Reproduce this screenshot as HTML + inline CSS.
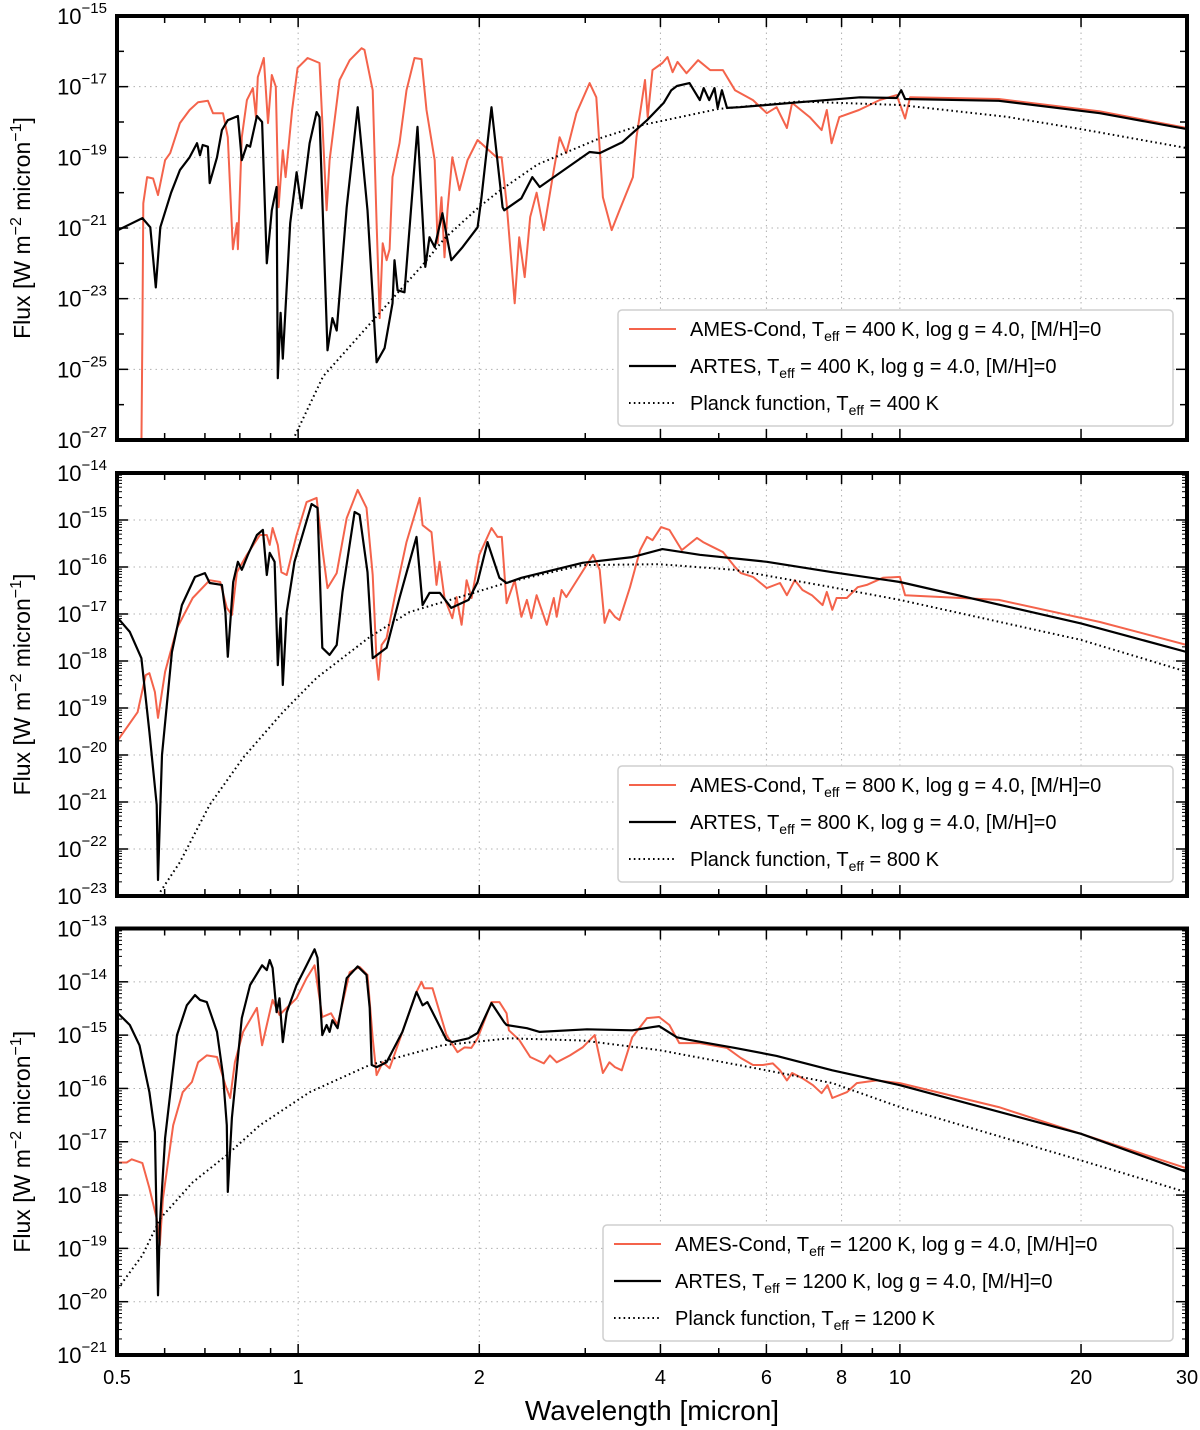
<!DOCTYPE html>
<html><head><meta charset="utf-8"><style>
html,body{margin:0;padding:0;background:#fff;}
svg{display:block;font-family:"Liberation Sans",sans-serif;}
</style></head><body>
<svg id="chart" width="1200" height="1430" viewBox="0 0 1200 1430" xmlns="http://www.w3.org/2000/svg"></svg>
<script>
// ---------- x-axis ticks ----------
const xTickLabels = [0.5, 1, 2, 4, 6, 8, 10, 20, 30];
const xGridValues = [1, 2, 4, 6, 8, 10, 20];
const xMinorValues = [0.6, 0.7, 0.8, 0.9, 3, 5, 7, 9];

// ---------- panel 1 (400 K) ----------
const p1BlackWl = [0.502,0.551,0.568,0.580,0.590,0.615,0.636,0.660,0.679,0.687,0.694,0.708,0.713,0.733,0.747,0.764,0.794,0.806,0.822,0.832,0.854,0.871,0.887,0.904,0.921,0.925,0.935,0.943,0.970,0.994,1.013,1.045,1.073,1.085,1.119,1.140,1.159,1.204,1.256,1.304,1.350,1.392,1.435,1.446,1.463,1.502,1.579,1.627,1.653,1.686,1.737,1.797,1.876,1.987,2.017,2.096,2.187,2.20,2.35,2.45,2.52,3.05,3.17,3.46,3.80,4.05,4.17,4.26,4.47,4.65,4.72,4.82,4.92,4.98,5.06,5.16,5.42,6.82,8.58,9.88,10.05,10.2,14.6,21.5,30];
const p1BlackFlux = [-21.06,-20.72,-20.98,-22.68,-20.98,-20.0,-19.36,-19.0,-18.6,-18.94,-18.65,-18.7,-19.73,-19.0,-18.23,-17.95,-17.83,-19.08,-18.65,-18.7,-17.83,-18.0,-22.0,-20.5,-19.84,-25.25,-23.4,-24.7,-20.86,-19.42,-20.44,-18.6,-17.72,-17.86,-24.46,-23.55,-23.9,-20.41,-17.58,-20.5,-24.8,-24.4,-23.13,-21.91,-22.76,-22.82,-18.14,-22.1,-21.26,-21.54,-20.58,-21.91,-21.54,-20.98,-20.13,-17.58,-20.41,-20.5,-20.16,-19.56,-19.84,-18.85,-18.88,-18.57,-17.95,-17.46,-17.1,-16.98,-16.9,-17.38,-17.04,-17.38,-17.04,-17.6,-17.1,-17.6,-17.58,-17.44,-17.3,-17.32,-17.1,-17.35,-17.4,-17.75,-18.2];
const p1RedWl = [0.549,0.551,0.553,0.561,0.574,0.585,0.601,0.613,0.636,0.660,0.682,0.708,0.722,0.750,0.764,0.776,0.779,0.791,0.794,0.806,0.822,0.841,0.851,0.857,0.877,0.891,0.904,0.918,0.928,0.943,0.953,0.977,0.998,1.037,1.085,1.115,1.128,1.172,1.218,1.275,1.289,1.330,1.350,1.366,1.382,1.403,1.419,1.435,1.474,1.514,1.561,1.603,1.634,1.686,1.705,1.731,1.751,1.771,1.804,1.854,1.912,1.987,2.136,2.178,2.22,2.29,2.33,2.38,2.43,2.49,2.56,2.66,2.72,2.79,2.90,3.05,3.13,3.21,3.32,3.42,3.60,3.65,3.77,3.81,3.88,4.03,4.11,4.19,4.27,4.42,4.62,4.84,5.08,5.32,5.70,6.01,6.24,6.49,6.62,7.08,7.41,7.56,7.70,7.93,8.55,9.25,9.88,10.2,10.4,14.6,21.5,30];
const p1RedFlux = [-27.2,-23.9,-20.3,-19.56,-19.6,-20.07,-19.08,-18.88,-18.03,-17.66,-17.44,-17.4,-17.75,-17.75,-18.43,-20.98,-21.6,-20.86,-21.6,-18.43,-17.38,-17.04,-17.86,-16.73,-16.19,-18.03,-16.67,-17.0,-20.41,-18.8,-19.56,-17.66,-16.47,-16.19,-16.33,-20.5,-19.08,-16.81,-16.25,-15.91,-15.96,-17.1,-20.86,-23.55,-21.43,-21.91,-21.6,-19.56,-18.6,-17.1,-16.19,-16.22,-17.66,-19.08,-21.43,-20.13,-21.83,-20.5,-19.0,-19.93,-19.08,-18.51,-19.0,-19.0,-20.3,-23.13,-21.26,-22.39,-20.69,-20.0,-21.06,-19.36,-18.43,-18.88,-17.75,-16.9,-17.3,-20.13,-21.06,-20.5,-19.56,-18.43,-16.81,-17.86,-16.53,-16.33,-16.16,-16.59,-16.3,-16.62,-16.25,-16.53,-16.53,-17.1,-17.38,-17.75,-17.58,-18.17,-17.46,-17.86,-18.23,-17.66,-18.6,-17.86,-17.66,-17.38,-17.24,-17.9,-17.3,-17.35,-17.7,-18.17];
const p1PlanckWl = [0.98,1.1,1.35,1.6,1.75,2.0,2.16,2.5,3.17,3.7,5.0,6.8,10,15,20,30];
const p1PlanckFlux = [-27.0,-25.2,-23.5,-22.1,-21.3,-20.4,-19.95,-19.2,-18.46,-18.1,-17.63,-17.42,-17.52,-17.85,-18.2,-18.74];

// ---------- panel 2 (800 K) ----------
const p2BlackWl = [0.502,0.525,0.549,0.566,0.582,0.585,0.589,0.594,0.617,0.641,0.674,0.700,0.713,0.747,0.757,0.764,0.780,0.794,0.806,0.825,0.854,0.874,0.887,0.897,0.914,0.925,0.935,0.943,0.957,0.986,1.02,1.053,1.077,1.097,1.128,1.159,1.185,1.241,1.265,1.304,1.330,1.403,1.474,1.573,1.610,1.653,1.72,1.797,1.92,1.987,2.064,2.16,2.22,2.35,2.97,3.59,4.03,4.65,6.01,7.72,10.0,20,30];
const p2BlackFlux = [-17.09,-17.38,-17.94,-19.51,-21.06,-22.66,-21.43,-20.0,-17.81,-16.81,-16.21,-16.13,-16.34,-16.38,-16.96,-17.91,-16.32,-15.89,-16.06,-15.74,-15.32,-15.21,-16.17,-15.70,-15.89,-18.09,-17.09,-18.51,-16.96,-15.89,-15.26,-14.66,-14.74,-17.72,-17.87,-17.66,-16.53,-14.83,-14.89,-16.11,-17.94,-17.72,-16.66,-15.36,-16.81,-16.55,-16.55,-16.87,-16.70,-16.32,-15.47,-16.23,-16.34,-16.23,-15.91,-15.79,-15.62,-15.74,-15.89,-16.11,-16.32,-17.2,-17.81];
const p2RedWl = [0.502,0.541,0.558,0.566,0.578,0.585,0.601,0.629,0.668,0.713,0.742,0.761,0.776,0.791,0.822,0.864,0.887,0.897,0.907,0.925,0.938,0.957,0.994,1.033,1.073,1.097,1.119,1.159,1.204,1.256,1.299,1.330,1.350,1.36,1.376,1.403,1.446,1.514,1.592,1.61,1.666,1.698,1.718,1.751,1.804,1.833,1.869,1.905,1.942,2.0,2.096,2.144,2.18,2.22,2.29,2.35,2.40,2.44,2.49,2.59,2.66,2.69,2.74,2.79,2.93,3.09,3.17,3.23,3.29,3.36,3.42,3.56,3.70,3.80,3.88,4.01,4.14,4.34,4.60,4.71,4.88,5.08,5.32,5.44,5.70,6.01,6.32,6.49,6.69,6.89,7.14,7.44,7.56,7.72,7.85,8.16,8.51,8.81,9.37,10.0,10.2,14.6,21.5,30];
const p2RedFlux = [-19.68,-19.09,-18.30,-18.26,-18.66,-19.21,-18.23,-17.30,-16.66,-16.28,-16.32,-16.87,-17.02,-16.11,-15.74,-15.32,-15.32,-15.53,-15.17,-15.53,-16.11,-16.17,-15.32,-14.62,-14.53,-15.60,-16.45,-16.13,-14.96,-14.36,-14.74,-16.17,-18.02,-18.40,-17.66,-17.51,-16.66,-15.47,-14.53,-15.11,-15.26,-16.38,-15.89,-16.66,-17.09,-16.64,-17.23,-16.28,-16.66,-15.74,-15.17,-15.36,-15.36,-16.77,-16.28,-17.06,-16.70,-17.09,-16.60,-17.23,-16.66,-17.06,-16.49,-16.64,-16.21,-15.74,-16.06,-17.19,-16.91,-17.06,-17.13,-16.43,-15.64,-15.36,-15.43,-15.15,-15.21,-15.64,-15.38,-15.47,-15.57,-15.68,-16.0,-16.13,-16.21,-16.45,-16.34,-16.60,-16.28,-16.49,-16.60,-16.81,-16.53,-16.91,-16.66,-16.66,-16.43,-16.38,-16.23,-16.21,-16.6,-16.70,-17.17,-17.66];
const p2PlanckWl = [0.59,0.636,0.713,0.81,0.943,1.073,1.315,1.53,1.98,2.24,2.97,3.98,5.3,7.7,10,20,30];
const p2PlanckFlux = [-22.91,-22.28,-21.06,-20.06,-19.09,-18.36,-17.49,-16.96,-16.53,-16.32,-15.96,-15.94,-16.06,-16.43,-16.7,-17.55,-18.23];

// ---------- panel 3 (1200 K) ----------
const p3BlackWl = [0.502,0.525,0.545,0.566,0.578,0.585,0.589,0.601,0.629,0.653,0.674,0.687,0.705,0.733,0.750,0.761,0.764,0.776,0.806,0.832,0.871,0.887,0.897,0.907,0.921,0.931,0.943,0.957,0.994,1.033,1.065,1.077,1.097,1.115,1.128,1.14,1.163,1.204,1.256,1.299,1.315,1.325,1.35,1.403,1.49,1.573,1.61,1.64,1.666,1.764,1.804,1.92,1.987,2.096,2.20,2.22,2.40,2.52,3.02,3.59,3.88,3.98,4.26,4.47,5.32,6.24,7.72,10.0,20,30];
const p3BlackFlux = [-14.59,-14.81,-15.19,-16.07,-16.82,-19.88,-18.57,-16.93,-15.0,-14.44,-14.25,-14.34,-14.38,-14.94,-15.75,-16.69,-17.94,-16.55,-14.68,-14.06,-13.69,-13.78,-13.59,-13.74,-14.57,-14.31,-15.13,-14.57,-14.06,-13.69,-13.39,-13.55,-15.0,-14.81,-14.94,-14.72,-14.87,-13.93,-13.71,-13.87,-14.49,-15.56,-15.60,-15.51,-14.94,-14.19,-14.44,-14.38,-14.53,-15.09,-15.13,-15.06,-14.96,-14.40,-14.76,-14.81,-14.87,-14.94,-14.89,-14.91,-14.85,-14.83,-15.04,-15.09,-15.24,-15.39,-15.66,-15.94,-16.85,-17.57];
const p3RedWl = [0.502,0.519,0.529,0.551,0.566,0.582,0.589,0.596,0.62,0.643,0.666,0.682,0.705,0.733,0.757,0.771,0.785,0.81,0.854,0.871,0.887,0.907,0.931,0.957,0.994,1.033,1.065,1.097,1.134,1.163,1.218,1.265,1.304,1.33,1.35,1.382,1.419,1.49,1.573,1.603,1.62,1.672,1.764,1.84,1.89,1.94,1.987,2.096,2.16,2.22,2.24,2.33,2.43,2.56,2.62,2.69,2.83,2.97,3.11,3.21,3.29,3.36,3.45,3.59,3.80,3.98,4.14,4.30,4.65,5.16,5.44,5.70,5.92,6.15,6.32,6.49,6.62,6.89,7.17,7.41,7.58,7.72,8.16,8.48,9.15,10.0,14.6,20,30];
const p3RedFlux = [-17.39,-17.39,-17.33,-17.40,-17.87,-18.44,-18.94,-18.07,-16.69,-16.07,-15.88,-15.51,-15.38,-15.41,-15.94,-16.18,-15.51,-14.94,-14.49,-15.19,-14.81,-14.34,-14.62,-14.49,-14.31,-13.93,-13.69,-14.66,-14.59,-14.81,-13.82,-13.72,-13.87,-15.06,-15.75,-15.51,-15.62,-14.94,-14.19,-14.0,-14.12,-14.12,-15.0,-15.32,-15.23,-15.24,-15.06,-14.38,-14.38,-14.59,-14.91,-15.09,-15.41,-15.53,-15.38,-15.51,-15.38,-15.23,-15.0,-15.71,-15.51,-15.60,-15.66,-15.04,-14.68,-14.66,-14.81,-15.15,-15.15,-15.24,-15.43,-15.56,-15.56,-15.53,-15.66,-15.85,-15.71,-15.81,-15.94,-16.09,-15.94,-16.18,-16.07,-15.90,-15.85,-15.90,-16.35,-16.85,-17.5];
const p3PlanckWl = [0.502,0.551,0.59,0.668,0.761,0.864,1.045,1.315,1.737,2.24,2.97,3.98,6.0,7.72,10,20,30];
const p3PlanckFlux = [-19.75,-19.13,-18.44,-17.76,-17.25,-16.69,-16.07,-15.56,-15.19,-15.06,-15.10,-15.28,-15.66,-15.90,-16.35,-17.35,-17.95];

// ---------- legend temperatures & y ranges ----------
const panelTemps = [400, 800, 1200];
const panelTopExp = [-15, -14, -13];
const panelBotExp = [-27, -23, -21];
const panelLabelStep = [2, 1, 1];

const NS = 'http://www.w3.org/2000/svg';
const svg = document.getElementById('chart');
const X0 = 117, X1 = 1187, XMIN = 0.5, XMAX = 30;
const panelBoxes = [{top:16, bot:440}, {top:473, bot:896}, {top:928.5, bot:1355}];
function xScale(w){ return X0 + (Math.log10(w) - Math.log10(XMIN)) / (Math.log10(XMAX) - Math.log10(XMIN)) * (X1 - X0); }
function makeY(i){ const b = panelBoxes[i], t = panelTopExp[i], bo = panelBotExp[i]; return v => b.top + (t - v) / (t - bo) * (b.bot - b.top); }
function el(tag, attrs, parent){ const e = document.createElementNS(NS, tag); for (const k in attrs) e.setAttribute(k, attrs[k]); (parent || svg).appendChild(e); return e; }

const series = [
  [[p1RedWl,p1RedFlux],[p1BlackWl,p1BlackFlux],[p1PlanckWl,p1PlanckFlux]],
  [[p2RedWl,p2RedFlux],[p2BlackWl,p2BlackFlux],[p2PlanckWl,p2PlanckFlux]],
  [[p3RedWl,p3RedFlux],[p3BlackWl,p3BlackFlux],[p3PlanckWl,p3PlanckFlux]]
];
const seriesNames = ['ames-cond-line','artes-line','planck-line'];
const styles = [
  {stroke:'#f4634b','stroke-width':2,fill:'none','stroke-linejoin':'round'},
  {stroke:'#000','stroke-width':2.2,fill:'none','stroke-linejoin':'round'},
  {stroke:'#000','stroke-width':2,fill:'none','stroke-dasharray':'1.6,3.2'}
];

for (let i = 0; i < 3; i++) {
  const b = panelBoxes[i], y = makeY(i);
  const g = el('g', {});
  
  
  const clipId = 'clip' + i;
  const cp = el('clipPath', {id: clipId}, g);
  el('rect', {x: X0, y: b.top, width: X1 - X0, height: b.bot - b.top}, cp);
  for (const v of xGridValues) {
    const gl = el('line', {x1: xScale(v), x2: xScale(v), y1: b.top, y2: b.bot, stroke: '#b0b0b0', 'stroke-width': 1, 'stroke-dasharray': '1.5,4'}, g);
    
    
  }
  for (let e = panelTopExp[i] - panelLabelStep[i]; e > panelBotExp[i]; e -= panelLabelStep[i]) {
    const gl = el('line', {x1: X0, x2: X1, y1: y(e), y2: y(e), stroke: '#b0b0b0', 'stroke-width': 1, 'stroke-dasharray': '1.5,4'}, g);
    
    
  }
  const sg = el('g', {'clip-path': 'url(#' + clipId + ')'}, g);
  for (let s = 0; s < 3; s++) {
    const [wl, fl] = series[i][s];
    let d = '';
    for (let k = 0; k < wl.length; k++) d += (k ? 'L' : 'M') + xScale(wl[k]).toFixed(1) + ',' + y(fl[k]).toFixed(1);
    const p = el('path', Object.assign({d: d}, styles[s]), sg);
    
    
  }
  for (let e = panelTopExp[i]; e >= panelBotExp[i]; e--) {
    const major = ((panelTopExp[i] - e) % panelLabelStep[i]) === 0;
    el('line', {x1: X0, x2: X0 + (major ? 11 : 7), y1: y(e), y2: y(e), stroke: '#000', 'stroke-width': 1.5}, g);
    el('line', {x1: X1, x2: X1 - (major ? 11 : 7), y1: y(e), y2: y(e), stroke: '#000', 'stroke-width': 1.5}, g);
    if (i > 0 && e > panelBotExp[i]) {
      for (let m = 2; m <= 9; m++) {
        const yy = y(e - 1 + Math.log10(m));
        el('line', {x1: X0, x2: X0 + 5, y1: yy, y2: yy, stroke: '#000', 'stroke-width': 1}, g);
        el('line', {x1: X1, x2: X1 - 5, y1: yy, y2: yy, stroke: '#000', 'stroke-width': 1}, g);
      }
    }
    if (major) {
      const t = el('text', {x: 107, y: y(e) + 8, 'text-anchor': 'end', 'font-size': 22}, g);
      
      
      t.textContent = '10';
      const sup = el('tspan', {dy: -11, 'font-size': 15}, t);
      sup.textContent = '\u2212' + Math.abs(e);
    }
  }
  for (const v of xTickLabels.concat(xMinorValues)) {
    const major = xTickLabels.includes(v);
    const L = major ? 11 : 7;
    el('line', {x1: xScale(v), x2: xScale(v), y1: b.top, y2: b.top + L, stroke: '#000', 'stroke-width': 1.5}, g);
    el('line', {x1: xScale(v), x2: xScale(v), y1: b.bot, y2: b.bot - L, stroke: '#000', 'stroke-width': 1.5}, g);
  }
  const fr = el('rect', {x: X0, y: b.top, width: X1 - X0, height: b.bot - b.top, fill: 'none', stroke: '#000', 'stroke-width': 4}, g);
  
  
  const yt = el('text', {x: 0, y: 0, transform: 'translate(30,' + ((b.top + b.bot) / 2) + ') rotate(-90)', 'text-anchor': 'middle', 'font-size': 23}, g);
  
  
  yt.innerHTML = 'Flux [W m<tspan dy="-9" font-size="16">\u22122</tspan><tspan dy="9"> micron</tspan><tspan dy="-9" font-size="16">\u22121</tspan><tspan dy="9">]</tspan>';
  const T = panelTemps[i];
  const lx = i === 2 ? 603 : 618;
  const ly = b.bot - 130;
  const lg = el('g', {}, g);
  
  
  el('rect', {x: lx, y: ly, width: 1173 - lx, height: 116, rx: 4, fill: '#fff', stroke: '#cfcfcf', 'stroke-width': 1.5}, lg);
  const labels = [
    'AMES-Cond, T<tspan dy="5" font-size="14">eff</tspan><tspan dy="-5"> = ' + T + ' K, log g = 4.0, [M/H]=0</tspan>',
    'ARTES, T<tspan dy="5" font-size="14">eff</tspan><tspan dy="-5"> = ' + T + ' K, log g = 4.0, [M/H]=0</tspan>',
    'Planck function, T<tspan dy="5" font-size="14">eff</tspan><tspan dy="-5"> = ' + T + ' K</tspan>'
  ];
  for (let s = 0; s < 3; s++) {
    const ry = ly + 19 + s * 37;
    const eg = el('g', {}, lg);
    
    
    el('line', Object.assign({x1: lx + 11, x2: lx + 58, y1: ry, y2: ry}, styles[s]), eg);
    const tx = el('text', {x: lx + 72, y: ry + 7, 'font-size': 20}, eg);
    tx.innerHTML = labels[s];
  }
}
for (const v of xTickLabels) {
  const t = el('text', {x: xScale(v), y: 1384, 'text-anchor': 'middle', 'font-size': 20});
  
  
  t.textContent = String(v);
}
const xt = el('text', {x: 652, y: 1420, 'text-anchor': 'middle', 'font-size': 28});


xt.textContent = 'Wavelength [micron]';
</script>
</body></html>
